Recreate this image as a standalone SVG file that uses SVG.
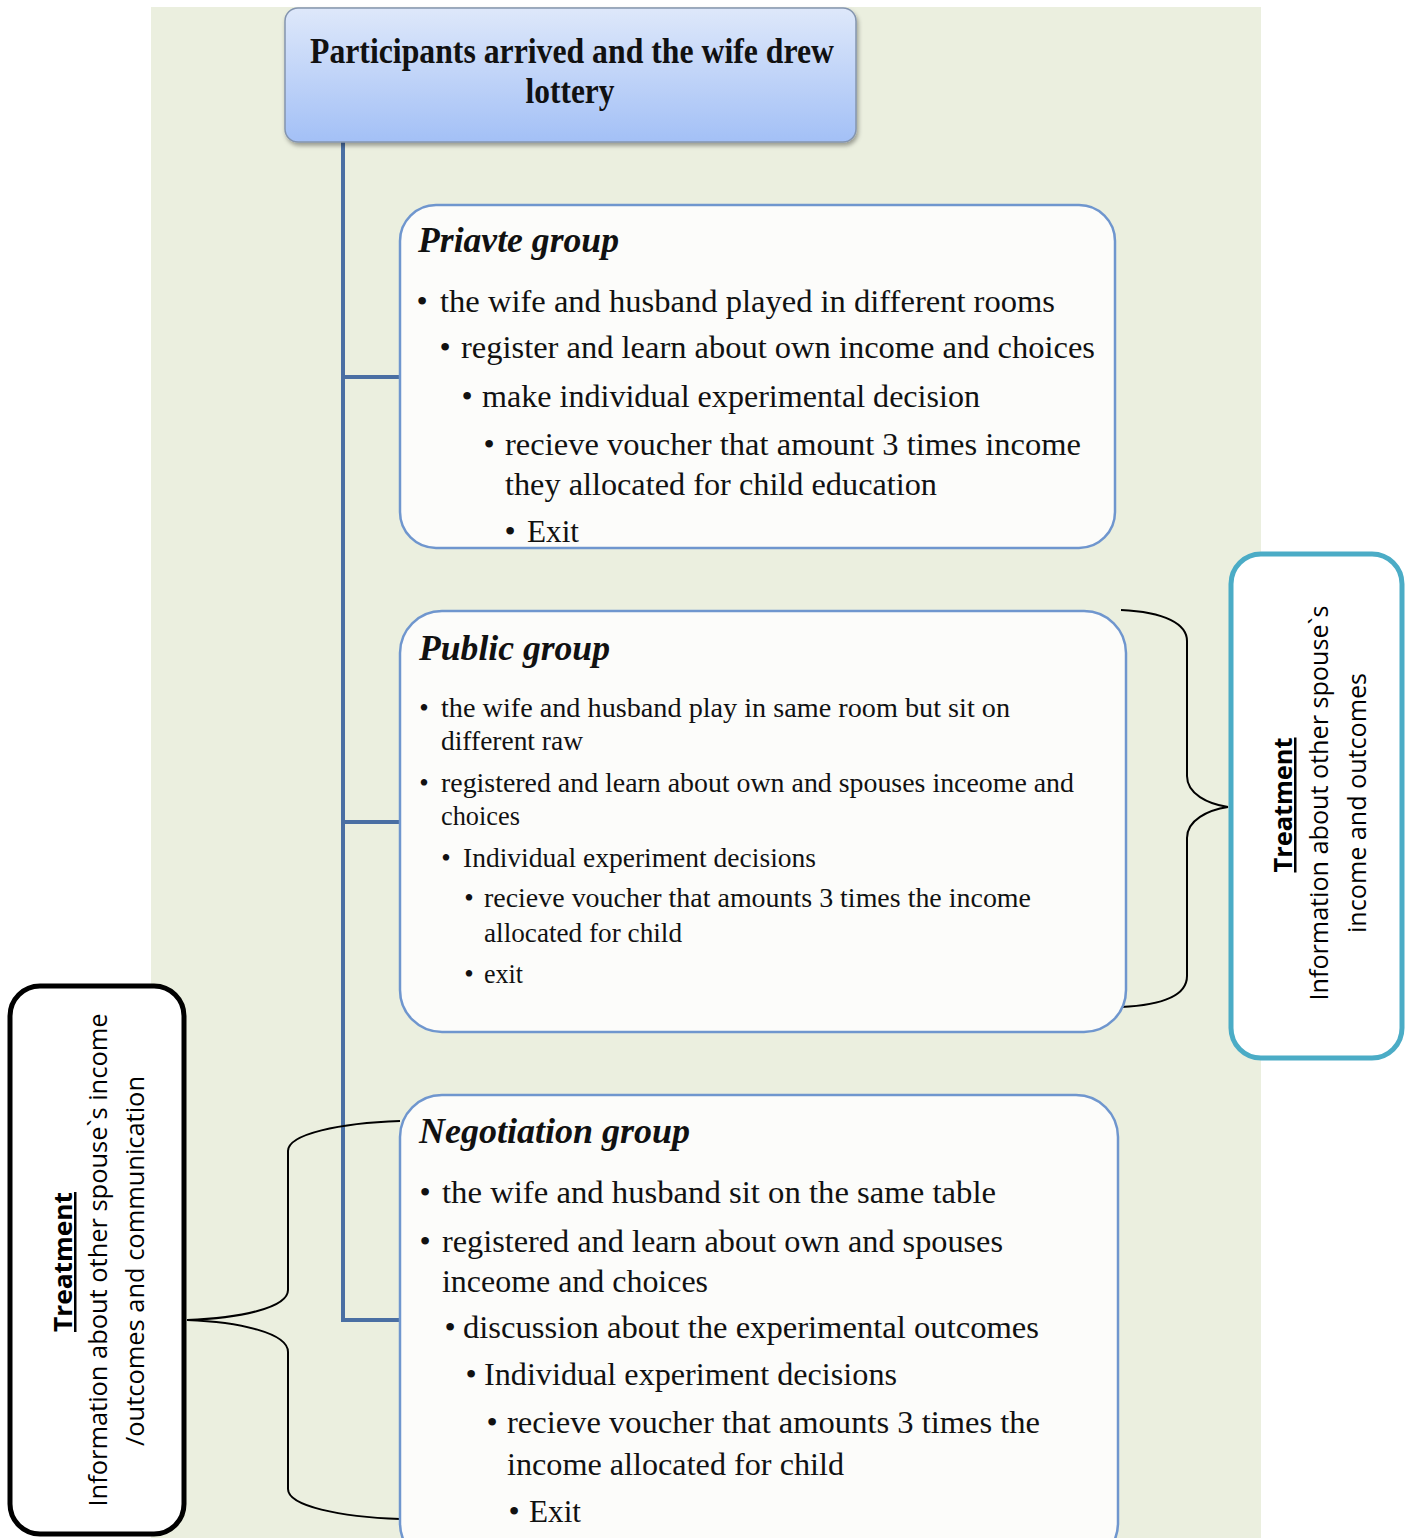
<svg xmlns="http://www.w3.org/2000/svg" width="1412" height="1538" viewBox="0 0 1412 1538">
<defs>
<linearGradient id="topGrad" x1="0" y1="0" x2="0" y2="1">
<stop offset="0" stop-color="#DEE8FA"/>
<stop offset="1" stop-color="#A3C0F6"/>
</linearGradient>
<filter id="shadow" x="-5%" y="-10%" width="110%" height="125%">
<feDropShadow dx="1.5" dy="3" stdDeviation="2" flood-color="#000" flood-opacity="0.35"/>
</filter>
<style>
.bg{fill:#EBEFDF}
.grp{fill:#FCFCFA;stroke:#6F96CE;stroke-width:2.5}
.conn{fill:none;stroke:#4A6FA3;stroke-width:4}
.brace{fill:none;stroke:#000;stroke-width:2}
.t{font-family:"Liberation Serif","Times New Roman",serif;fill:#111}
.head{font-weight:bold;font-size:36px}
.title{font-weight:bold;font-style:italic;font-size:36px}
.big{font-size:32px}
.small{font-size:27px}
.bul{text-anchor:middle}
.s{font-family:"Open Sans","Liberation Sans",Arial,sans-serif;fill:#000;font-size:25px;text-anchor:middle}
.sb{font-weight:bold;text-decoration:underline}
</style>
</defs>

<rect class="bg" x="151" y="7" width="1110" height="1531"/>

<g id="connectors">
<path class="conn" d="M343,140 L343,1320"/>
<path class="conn" d="M341,377 L402,377"/>
<path class="conn" d="M341,822 L402,822"/>
<path class="conn" d="M341,1320 L402,1320"/>
<path class="brace" d="M1121,610 C1165,612 1187,624 1187,641 L1187,776 C1187,794 1208,804 1228,807 C1208,810 1187,820 1187,838 L1187,976 C1187,994 1165,1005 1121,1007"/>
<path class="brace" d="M400,1121 C340,1123 288,1134 288,1151 L288,1290 C288,1308 240,1318 187,1320 C240,1322 288,1333 288,1352 L288,1489 C288,1506 340,1517 400,1519"/>
</g>

<g id="start">
<rect x="285" y="8" width="571" height="134" rx="13" fill="url(#topGrad)" stroke="#8495AF" stroke-width="1.5" filter="url(#shadow)"/>
<text class="t head" x="572" y="63" text-anchor="middle" textLength="524" lengthAdjust="spacingAndGlyphs">Participants arrived and the wife drew</text>
<text class="t head" x="570" y="103" text-anchor="middle" textLength="89" lengthAdjust="spacingAndGlyphs">lottery</text>
</g>

<g id="private-group">
<rect class="grp" x="400" y="205" width="715" height="343" rx="36"/>
<text class="t title" x="418" y="252" textLength="201" lengthAdjust="spacingAndGlyphs">Priavte group</text>
<text class="t big bul" x="422" y="312">•</text>
<text class="t big" x="440" y="312" textLength="615" lengthAdjust="spacingAndGlyphs">the wife and husband played in different rooms</text>
<text class="t big bul" x="445" y="358">•</text>
<text class="t big" x="461" y="358" textLength="634" lengthAdjust="spacingAndGlyphs">register and learn about own income and choices</text>
<text class="t big bul" x="467" y="407">•</text>
<text class="t big" x="482" y="407" textLength="498" lengthAdjust="spacingAndGlyphs">make individual experimental decision</text>
<text class="t big bul" x="489" y="455">•</text>
<text class="t big" x="505" y="455" textLength="576" lengthAdjust="spacingAndGlyphs">recieve voucher that amount 3 times income</text>
<text class="t big" x="505" y="495" textLength="432" lengthAdjust="spacingAndGlyphs">they allocated for child education</text>
<text class="t big bul" x="510" y="542">•</text>
<text class="t big" x="527" y="542" textLength="52" lengthAdjust="spacingAndGlyphs">Exit</text>
</g>

<g id="public-group">
<rect class="grp" x="400" y="611" width="726" height="421" rx="42"/>
<text class="t title" x="419" y="660" textLength="191" lengthAdjust="spacingAndGlyphs">Public group</text>
<text class="t small bul" x="424" y="717">•</text>
<text class="t small" x="441" y="717" textLength="569" lengthAdjust="spacingAndGlyphs">the wife and husband play in same room but sit on</text>
<text class="t small" x="441" y="750" textLength="142" lengthAdjust="spacingAndGlyphs">different raw</text>
<text class="t small bul" x="424" y="792">•</text>
<text class="t small" x="441" y="792" textLength="633" lengthAdjust="spacingAndGlyphs">registered and learn about own and spouses inceome and</text>
<text class="t small" x="441" y="825" textLength="79" lengthAdjust="spacingAndGlyphs">choices</text>
<text class="t small bul" x="446" y="867">•</text>
<text class="t small" x="463" y="867" textLength="353" lengthAdjust="spacingAndGlyphs">Individual experiment decisions</text>
<text class="t small bul" x="469" y="907">•</text>
<text class="t small" x="484" y="907" textLength="547" lengthAdjust="spacingAndGlyphs">recieve voucher that amounts 3 times the income</text>
<text class="t small" x="484" y="942" textLength="198" lengthAdjust="spacingAndGlyphs">allocated for child</text>
<text class="t small bul" x="469" y="983">•</text>
<text class="t small" x="484" y="983" textLength="39" lengthAdjust="spacingAndGlyphs">exit</text>
</g>

<g id="negotiation-group">
<rect class="grp" x="400" y="1095" width="718" height="470" rx="42"/>
<text class="t title" x="419" y="1143" textLength="271" lengthAdjust="spacingAndGlyphs">Negotiation group</text>
<text class="t big bul" x="425" y="1203">•</text>
<text class="t big" x="442" y="1203" textLength="554" lengthAdjust="spacingAndGlyphs">the wife and husband sit on the same table</text>
<text class="t big bul" x="425" y="1252">•</text>
<text class="t big" x="442" y="1252" textLength="561" lengthAdjust="spacingAndGlyphs">registered and learn about own and spouses</text>
<text class="t big" x="442" y="1292" textLength="266" lengthAdjust="spacingAndGlyphs">inceome and choices</text>
<text class="t big bul" x="450" y="1338">•</text>
<text class="t big" x="463" y="1338" textLength="576" lengthAdjust="spacingAndGlyphs">discussion about the experimental outcomes</text>
<text class="t big bul" x="471" y="1385">•</text>
<text class="t big" x="484" y="1385" textLength="413" lengthAdjust="spacingAndGlyphs">Individual experiment decisions</text>
<text class="t big bul" x="492" y="1433">•</text>
<text class="t big" x="507" y="1433" textLength="533" lengthAdjust="spacingAndGlyphs">recieve voucher that amounts 3 times the</text>
<text class="t big" x="507" y="1475" textLength="337" lengthAdjust="spacingAndGlyphs">income allocated for child</text>
<text class="t big bul" x="514" y="1522">•</text>
<text class="t big" x="529" y="1522" textLength="52" lengthAdjust="spacingAndGlyphs">Exit</text>
</g>

<g id="treatment-right">
<rect x="1231" y="554" width="171" height="504" rx="30" fill="#FFFFFF" stroke="#4BACC6" stroke-width="5"/>
<text class="s sb" transform="translate(1292,805) rotate(-90)" textLength="135" lengthAdjust="spacingAndGlyphs">Treatment</text>
<text class="s" transform="translate(1328,803) rotate(-90)" textLength="395" lengthAdjust="spacingAndGlyphs">Information about other spouse`s</text>
<text class="s" transform="translate(1366,803) rotate(-90)" textLength="260" lengthAdjust="spacingAndGlyphs">income and outcomes</text>
</g>

<g id="treatment-left">
<rect x="10" y="986" width="174" height="548" rx="30" fill="#FFFFFF" stroke="#000" stroke-width="5"/>
<text class="s sb" transform="translate(72,1262) rotate(-90)" textLength="140" lengthAdjust="spacingAndGlyphs">Treatment</text>
<text class="s" transform="translate(107,1260) rotate(-90)" textLength="493" lengthAdjust="spacingAndGlyphs">Information about other spouse`s income</text>
<text class="s" transform="translate(144,1261) rotate(-90)" textLength="370" lengthAdjust="spacingAndGlyphs">/outcomes and communication</text>
</g>
</svg>
